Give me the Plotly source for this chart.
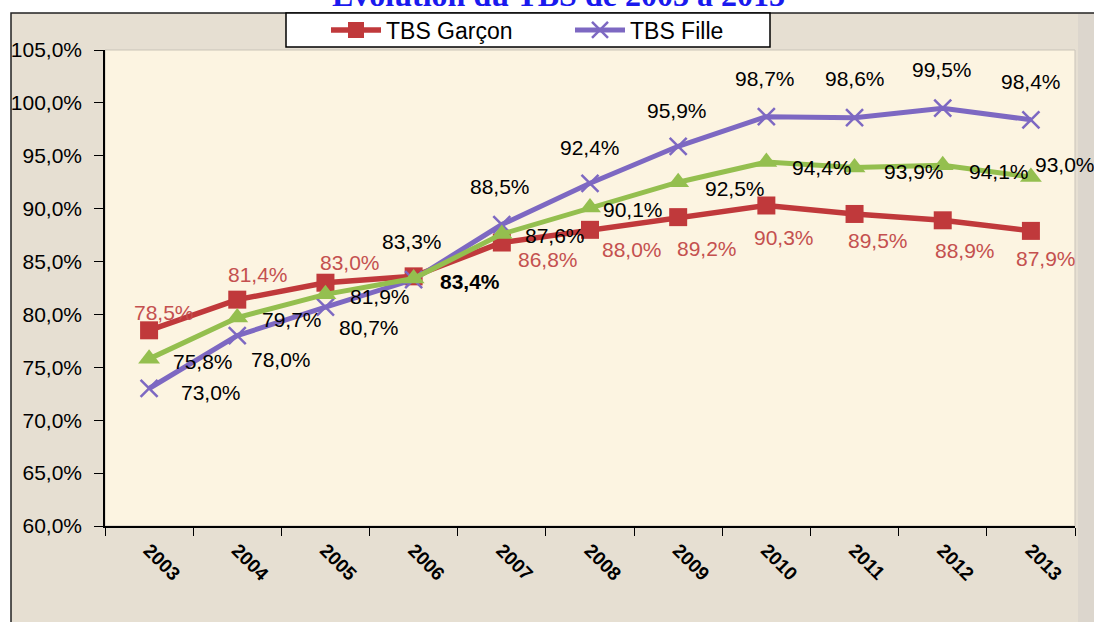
import plotly.graph_objects as go

years = ["2003", "2004", "2005", "2006", "2007", "2008", "2009", "2010", "2011", "2012", "2013"]
tbs_garcon = [78.5, 81.4, 83.0, 83.6, 86.8, 88.0, 89.2, 90.3, 89.5, 88.9, 87.9]
tbs_fille = [73.0, 78.0, 80.7, 83.3, 88.5, 92.4, 95.9, 98.7, 98.6, 99.5, 98.4]
tbs_total = [75.8, 79.7, 81.9, 83.4, 87.6, 90.1, 92.5, 94.4, 93.9, 94.1, 93.0]
show_garcon_label = [True, True, True, False, True, True, True, True, True, True, True]
y_ticks = [60, 65, 70, 75, 80, 85, 90, 95, 100, 105]
title_text = "Évolution du TBS de 2003 à 2013"

# label offsets in pixels (dx right, dy down)
off_garcon = [(15, -18), (21, -25), (25, -20), (0, 0), (46, 17), (42, 20), (29, 31),
              (18, 32), (23, 27), (22, 30), (15, 28)]
off_fille = [(62, 4), (44, 24), (44, 20), (-2, -38), (-2, -38), (0, -36), (-1, -36),
             (-1, -38), (0, -39), (-1, -39), (0, -38)]
off_total = [(54, 3), (55, 2), (55, 2), (56, 3), (53, 1), (43, 2), (57, 6),
             (56, 5), (59, 4), (56, 6), (34, -12)]

RED = "#c0393b"
RED_TXT = "#c4504f"
PURPLE = "#7d68c2"
GREEN = "#94bf4f"
FONT = "Liberation Sans, Arial, sans-serif"

OFF = 0  # page body margin removed by post_script
W, H = 1094, 622
L = 105 - OFF
T = 50 - OFF
R = W - (1075 - OFF)
B = H - (526 - OFF)
pw, ph = W - L - R, H - T - B


def px_x(p):
    return (p - OFF - L) / pw


def px_y(p):
    return 1 - (p - OFF - T) / ph


def fmt(v):
    return f"{v:.1f}".replace(".", ",") + "%"


fig = go.Figure()
fig.add_trace(go.Scatter(x=years, y=tbs_garcon, mode="lines+markers", name="TBS Garçon",
                         line=dict(color=RED, width=5.5),
                         marker=dict(symbol="square", size=18, color=RED)))
fig.add_trace(go.Scatter(x=years, y=tbs_fille, mode="lines+markers", name="TBS Fille",
                         line=dict(color=PURPLE, width=5),
                         marker=dict(symbol="x-thin", size=17, color=PURPLE,
                                     line=dict(width=2.5, color=PURPLE))))
fig.add_trace(go.Scatter(x=years, y=tbs_total, mode="lines+markers", name="TBS",
                         showlegend=False,
                         line=dict(color=GREEN, width=5),
                         marker=dict(symbol="triangle-up", size=19, color=GREEN)))

ann = []
for i, yr in enumerate(years):
    if show_garcon_label[i]:
        dx, dy = off_garcon[i]
        ann.append(dict(xref="x", yref="y", x=i, y=tbs_garcon[i], text=fmt(tbs_garcon[i]),
                        showarrow=False, xshift=dx, yshift=-dy,
                        font=dict(family=FONT, size=21, color=RED_TXT)))
    dx, dy = off_fille[i]
    ann.append(dict(xref="x", yref="y", x=i, y=tbs_fille[i], text=fmt(tbs_fille[i]),
                    showarrow=False, xshift=dx, yshift=-dy,
                    font=dict(family=FONT, size=21, color="black")))
    dx, dy = off_total[i]
    txt = fmt(tbs_total[i])
    if yr == "2006":
        txt = "<b>" + txt + "</b>"
    ann.append(dict(xref="x", yref="y", x=i, y=tbs_total[i], text=txt,
                    showarrow=False, xshift=dx, yshift=-dy,
                    font=dict(family=FONT, size=21, color="black")))

ann.append(dict(xref="paper", yref="paper", x=px_x(558), y=px_y(-5), xanchor="center",
                yanchor="middle", showarrow=False, text="<b>" + title_text + "</b>",
                font=dict(family="Liberation Serif, Times New Roman, serif", size=32,
                          color="#1a1aee")))

shapes = [
    dict(type="rect", xref="paper", yref="paper", x0=px_x(11), x1=px_x(1110),
         y0=px_y(640), y1=px_y(13), fillcolor="#e6dfd2", line=dict(color="#222", width=1.5),
         layer="below"),
    dict(type="rect", xref="paper", yref="paper", x0=px_x(1078), x1=px_x(1110),
         y0=px_y(640), y1=px_y(14), fillcolor="#dcd6cd", line=dict(width=0),
         layer="below"),
    dict(type="rect", xref="paper", yref="paper", x0=0, x1=1, y0=0, y1=1,
         fillcolor="#fcf4e1", line=dict(color="#c9c3b8", width=1), layer="below"),
    dict(type="rect", xref="paper", yref="paper", x0=px_x(286), x1=px_x(770),
         y0=px_y(47), y1=px_y(13), fillcolor="white", line=dict(color="black", width=1.5),
         layer="below"),
]

fig.update_layout(
    width=W, height=H,
    margin=dict(l=L, r=R, t=T, b=B, autoexpand=False),
    paper_bgcolor="white",
    plot_bgcolor="rgba(0,0,0,0)",
    font=dict(family=FONT, color="black"),
    showlegend=True,
    legend=dict(orientation="h", xref="container", yref="container",
                x=(326 - OFF) / W, xanchor="left", y=1 - (30 - OFF) / H, yanchor="middle",
                bgcolor="rgba(0,0,0,0)", borderwidth=0, entrywidth=179, entrywidthmode="pixels",
                font=dict(family=FONT, size=23, color="black"), itemwidth=50,
                tracegroupgap=0),
    annotations=ann,
    shapes=shapes,
)
fig.update_xaxes(type="category", range=[-0.5, 10.5], tickson="boundaries", ticks="outside",
                 ticklen=8, tickcolor="black", showline=True, linecolor="black", linewidth=1.5,
                 showgrid=False, tickangle=45, ticklabelstandoff=4, automargin=False,
                 tickfont=dict(family=FONT, size=19, color="black", weight="bold"))
fig.update_yaxes(range=[60, 105], tickmode="array", tickvals=y_ticks,
                 ticktext=[fmt(v) for v in y_ticks], automargin=False,
                 ticks="outside", ticklen=9, tickcolor="black", showline=True, linecolor="black",
                 linewidth=1.5, showgrid=False, zeroline=False, ticklabelstandoff=8,
                 tickfont=dict(family=FONT, size=21, color="black"))

fig.write_html("out.html", config={"displayModeBar": False},
               post_script="document.body.style.margin='0';")
